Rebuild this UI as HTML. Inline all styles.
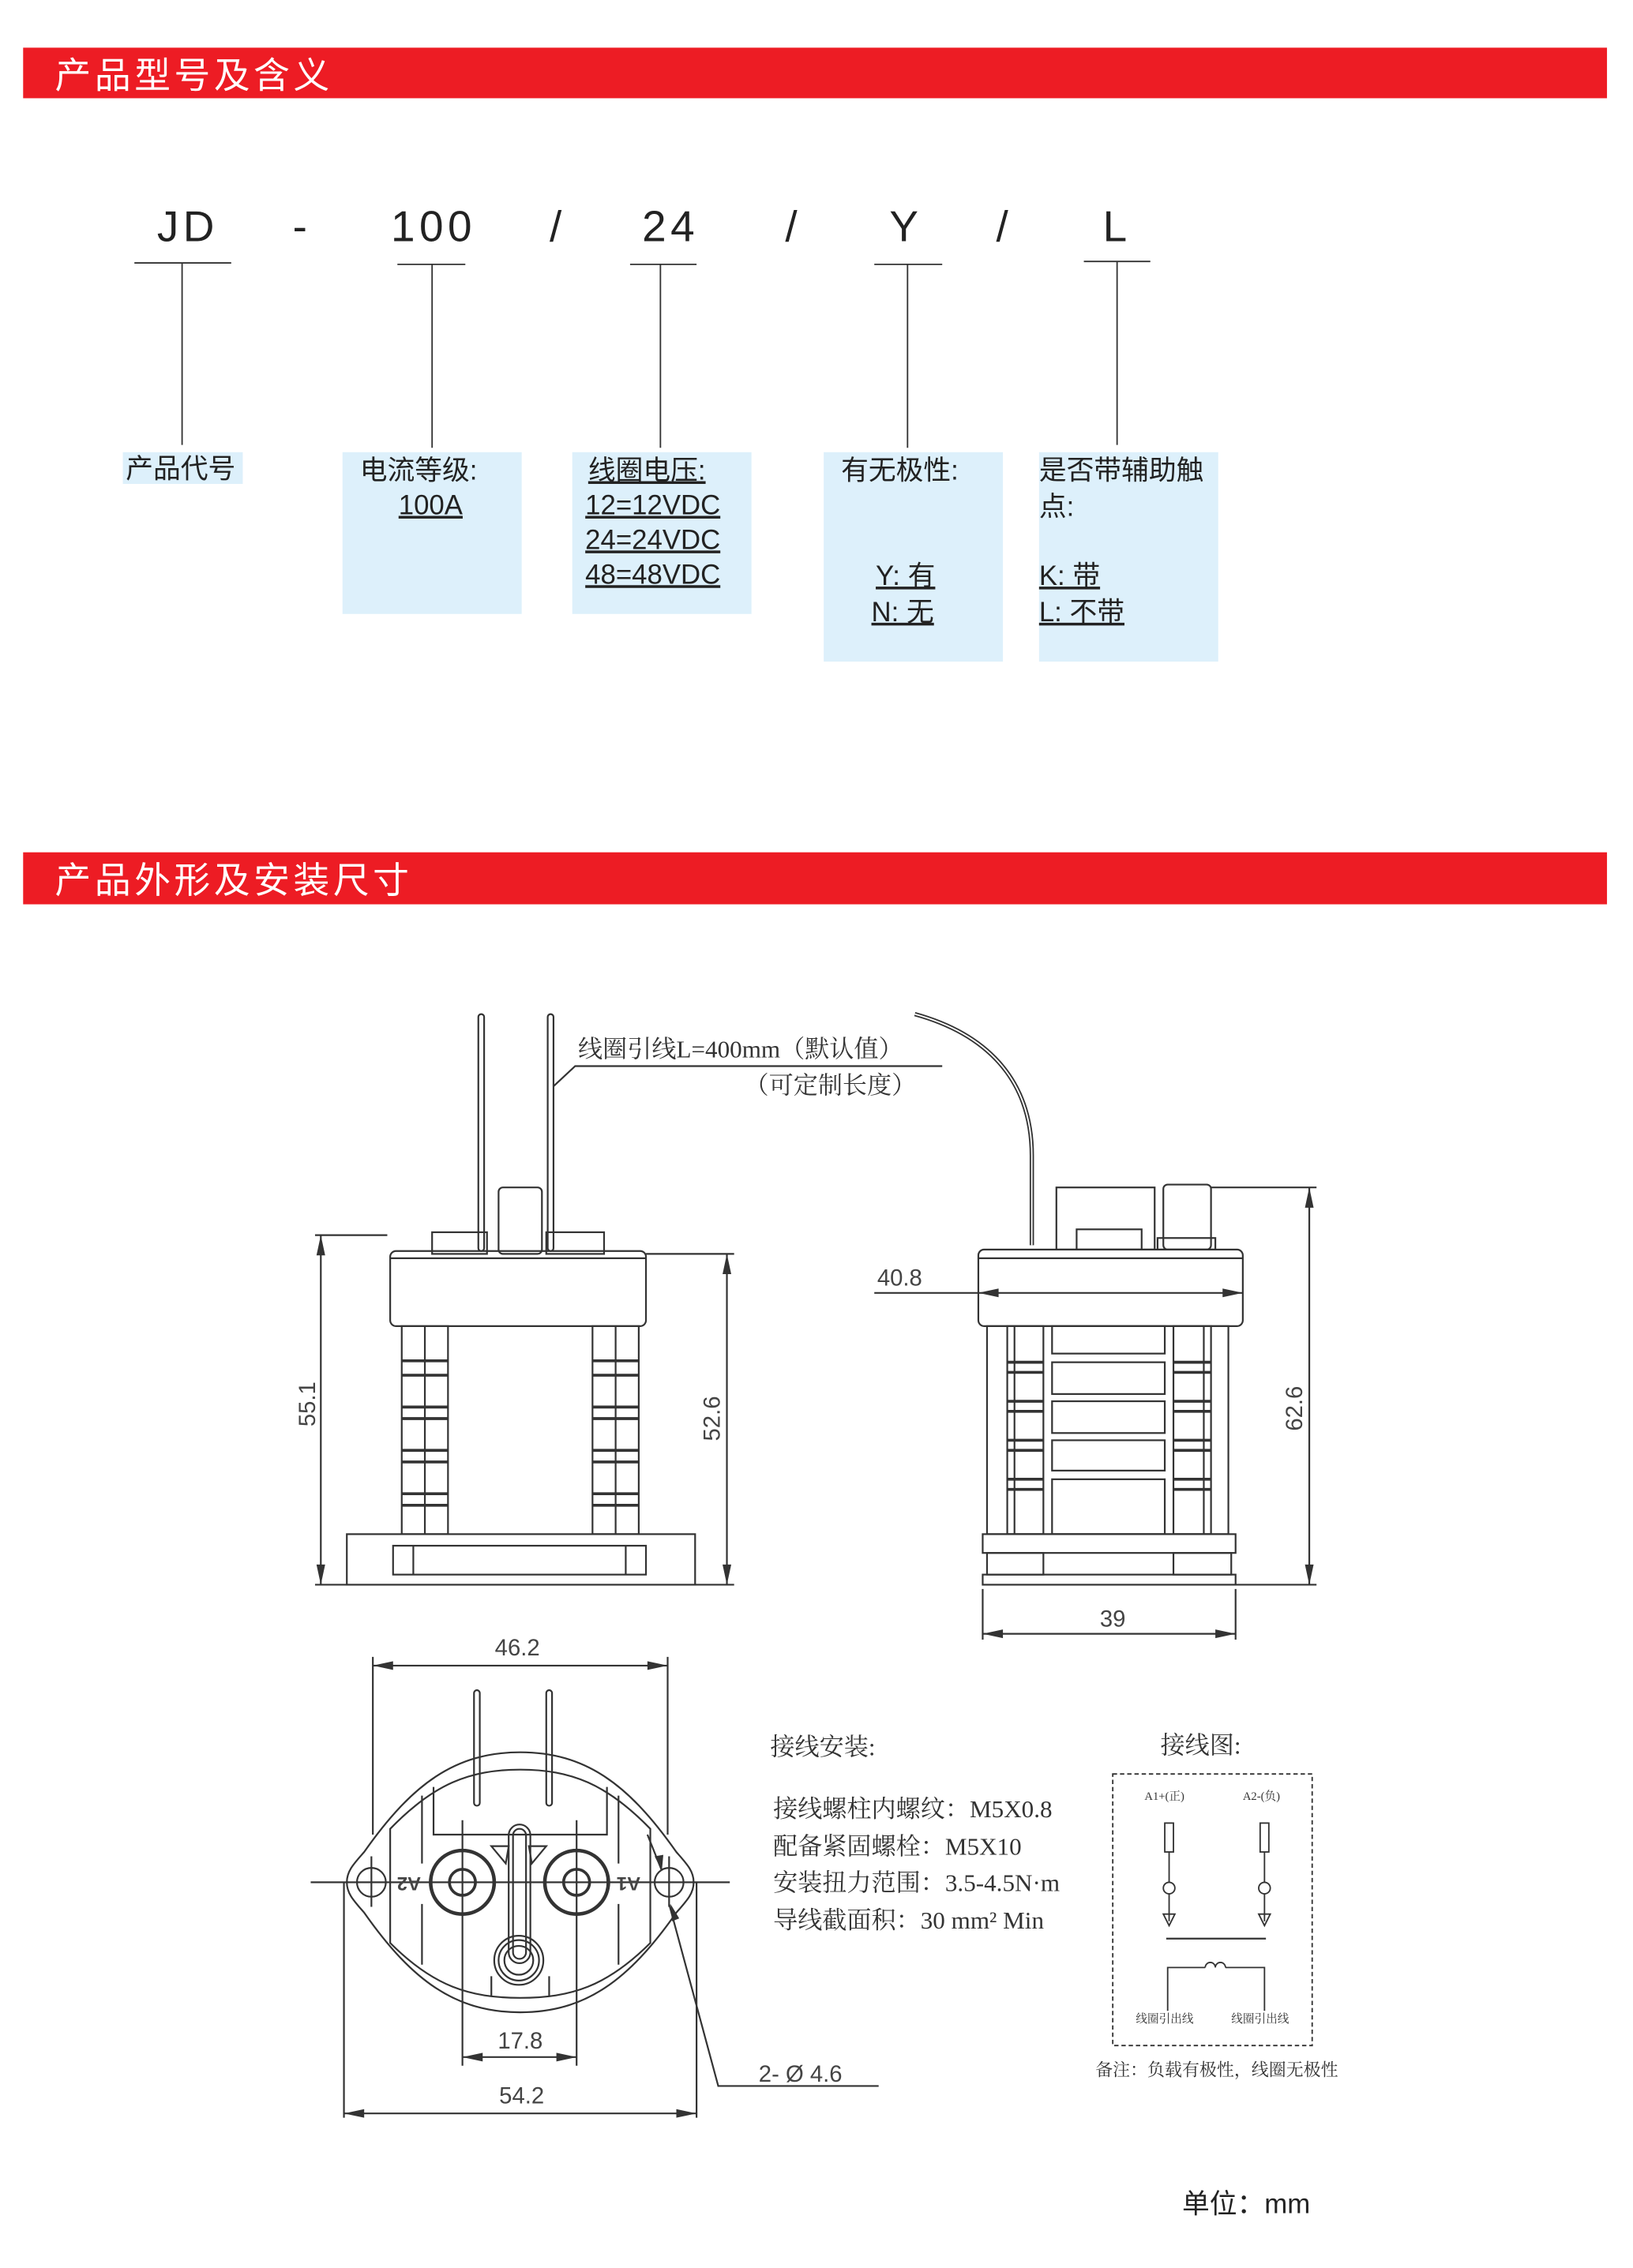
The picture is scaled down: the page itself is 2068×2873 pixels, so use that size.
<!DOCTYPE html>
<html><head><meta charset="utf-8"><style>
html,body{margin:0;padding:0;background:#fff}
svg{display:block}
.s{font-family:"Liberation Sans","Noto Sans CJK SC",sans-serif}
.r{font-family:"Liberation Serif","Noto Serif CJK SC",serif}
</style></head><body>
<svg width="2068" height="2873" viewBox="0 0 1130 1570" preserveAspectRatio="none" xmlns="http://www.w3.org/2000/svg">
<rect width="1130" height="1570" fill="#fff"/>
<!-- headers -->
<rect x="16" y="33" width="1096" height="35" fill="#ed1c24"/>
<text x="38" y="61" class="s" font-size="25" letter-spacing="2.5" fill="#fff">产品型号及含义</text>
<rect x="16" y="590" width="1096" height="36" fill="#ed1c24"/>
<text x="38" y="618" class="s" font-size="25" letter-spacing="2.5" fill="#fff">产品外形及安装尺寸</text>

<!-- model code -->
<g class="s" font-size="30" fill="#222" text-anchor="middle" letter-spacing="3">
<text x="130" y="167">JD</text><text x="209" y="167">-</text><text x="300" y="167">100</text>
<text x="386" y="167">/</text><text x="464" y="167">24</text><text x="549" y="167">/</text>
<text x="627" y="167">Y</text><text x="695" y="167">/</text><text x="773" y="167">L</text>
</g>
<g stroke="#333" stroke-width="1">
<line x1="93" y1="182" x2="160" y2="182"/><line x1="126" y1="182" x2="126" y2="308"/>
<line x1="275" y1="183" x2="322" y2="183"/><line x1="299" y1="183" x2="299" y2="310"/>
<line x1="436" y1="183" x2="482" y2="183"/><line x1="457" y1="183" x2="457" y2="310"/>
<line x1="605" y1="183" x2="652" y2="183"/><line x1="628" y1="183" x2="628" y2="310"/>
<line x1="750" y1="181" x2="796" y2="181"/><line x1="773" y1="181" x2="773" y2="308"/>
</g>
<g fill="#ddf0fb">
<rect x="85" y="313" width="83" height="22"/>
<rect x="237" y="313" width="124" height="112"/>
<rect x="396" y="313" width="124" height="112"/>
<rect x="570" y="313" width="124" height="145"/>
<rect x="719" y="313" width="124" height="145"/>
</g>
<g class="s" font-size="19" fill="#222">
<text x="87" y="331">产品代号</text>
<text x="249" y="332">电流等级:</text>
<text x="298" y="356" text-anchor="middle" text-decoration="underline">100A</text>
<text x="407" y="332" text-decoration="underline">线圈电压: </text>
<text x="405" y="356" text-decoration="underline">12=12VDC </text>
<text x="405" y="380" text-decoration="underline">24=24VDC </text>
<text x="405" y="404" text-decoration="underline">48=48VDC </text>
<text x="582" y="332">有无极性:</text>
<text x="606" y="405" text-decoration="underline">Y: 有</text>
<text x="603" y="430" text-decoration="underline">N: 无</text>
<text x="719" y="332">是否带辅助触</text>
<text x="719" y="357">点:</text>
<text x="719" y="405" text-decoration="underline">K: 带</text>
<text x="719" y="430" text-decoration="underline">L: 不带</text>
</g>

<!-- drawings -->
<g fill="none" stroke="#333" stroke-width="1.2">
<rect x="331" y="702" width="4" height="164" rx="2"/>
<rect x="379" y="702" width="4" height="164" rx="2"/>
<path d="M383 752 L398 738 L652 738"/>
<rect x="345" y="822" width="30" height="46" rx="3"/>
<rect x="299" y="853" width="38" height="15"/>
<rect x="378" y="853" width="40" height="15"/>
<rect x="270" y="866" width="177" height="52" rx="4"/>
<line x1="270" y1="871" x2="447" y2="871"/>
<rect x="278" y="918" width="32" height="144"/><line x1="294" y1="918" x2="294" y2="1062"/>
<rect x="410" y="918" width="32" height="144"/><line x1="426" y1="918" x2="426" y2="1062"/>
<g stroke-width="2">
<line x1="278" y1="942" x2="310" y2="942"/><line x1="278" y1="952" x2="310" y2="952"/>
<line x1="278" y1="974" x2="310" y2="974"/><line x1="278" y1="982" x2="310" y2="982"/>
<line x1="278" y1="1004" x2="310" y2="1004"/><line x1="278" y1="1012" x2="310" y2="1012"/>
<line x1="278" y1="1034" x2="310" y2="1034"/><line x1="278" y1="1042" x2="310" y2="1042"/>
<line x1="410" y1="942" x2="442" y2="942"/><line x1="410" y1="952" x2="442" y2="952"/>
<line x1="410" y1="974" x2="442" y2="974"/><line x1="410" y1="982" x2="442" y2="982"/>
<line x1="410" y1="1004" x2="442" y2="1004"/><line x1="410" y1="1012" x2="442" y2="1012"/>
<line x1="410" y1="1034" x2="442" y2="1034"/><line x1="410" y1="1042" x2="442" y2="1042"/>
</g>
<rect x="240" y="1062" width="241" height="35"/>
<rect x="272" y="1070" width="175" height="20"/>
<line x1="286" y1="1070" x2="286" y2="1090"/><line x1="433" y1="1070" x2="433" y2="1090"/>
<line x1="218" y1="855" x2="268" y2="855"/><line x1="222" y1="855" x2="222" y2="1097"/>
<line x1="218" y1="1097" x2="240" y2="1097"/>
<line x1="447" y1="868" x2="508" y2="868"/><line x1="503" y1="868" x2="503" y2="1097"/>
<line x1="481" y1="1097" x2="508" y2="1097"/>

<path d="M633 702 C680 715 714 745 714 800 L714 862" stroke-width="3"/>
<path d="M633 702 C680 715 714 745 714 800 L714 862" stroke="#fff" stroke-width="1"/>
<rect x="731" y="822" width="68" height="43"/>
<rect x="805" y="820" width="33" height="45" rx="3"/>
<rect x="801" y="857" width="40" height="8"/>
<rect x="745" y="851" width="45" height="14"/>
<rect x="677" y="865" width="183" height="53" rx="4"/>
<line x1="677" y1="871" x2="860" y2="871"/>
<rect x="683" y="918" width="167" height="144"/>
<rect x="697" y="918" width="25" height="144"/><line x1="702" y1="918" x2="702" y2="1062"/>
<rect x="812" y="918" width="26" height="144"/><line x1="833" y1="918" x2="833" y2="1062"/>
<g stroke-width="2">
<line x1="697" y1="943" x2="722" y2="943"/><line x1="697" y1="950" x2="722" y2="950"/>
<line x1="697" y1="970" x2="722" y2="970"/><line x1="697" y1="977" x2="722" y2="977"/>
<line x1="697" y1="997" x2="722" y2="997"/><line x1="697" y1="1004" x2="722" y2="1004"/>
<line x1="697" y1="1024" x2="722" y2="1024"/><line x1="697" y1="1031" x2="722" y2="1031"/>
<line x1="812" y1="943" x2="838" y2="943"/><line x1="812" y1="950" x2="838" y2="950"/>
<line x1="812" y1="970" x2="838" y2="970"/><line x1="812" y1="977" x2="838" y2="977"/>
<line x1="812" y1="997" x2="838" y2="997"/><line x1="812" y1="1004" x2="838" y2="1004"/>
<line x1="812" y1="1024" x2="838" y2="1024"/><line x1="812" y1="1031" x2="838" y2="1031"/>
</g>
<rect x="728" y="918" width="78" height="19"/>
<rect x="728" y="943" width="78" height="22"/>
<rect x="728" y="970" width="78" height="22"/>
<rect x="728" y="997" width="78" height="21"/>
<rect x="728" y="1024" width="78" height="38"/>
<rect x="680" y="1062" width="175" height="13"/>
<rect x="683" y="1075" width="39" height="15"/>
<rect x="812" y="1075" width="40" height="15"/>
<rect x="680" y="1090" width="175" height="7"/>
<line x1="605" y1="895" x2="860" y2="895"/>
<line x1="838" y1="822" x2="911" y2="822"/><line x1="906" y1="822" x2="906" y2="1097"/>
<line x1="855" y1="1097" x2="911" y2="1097"/>
<line x1="680" y1="1100" x2="680" y2="1135"/><line x1="855" y1="1100" x2="855" y2="1135"/>
<line x1="680" y1="1131" x2="855" y2="1131"/>

<line x1="258" y1="1153" x2="462" y2="1153"/>
<line x1="258" y1="1147" x2="258" y2="1270"/><line x1="462" y1="1147" x2="462" y2="1270"/>
<line x1="215" y1="1303" x2="505" y2="1303"/>
<path d="M240 1303 C240 1295 245 1290 252 1282 C285 1235 315 1213 360 1213 C405 1213 435 1235 468 1282 C475 1290 480 1295 480 1303 C480 1311 475 1316 468 1324 C435 1371 405 1393 360 1393 C315 1393 285 1371 252 1324 C245 1316 240 1311 240 1303 Z"/>
<path d="M270 1266 C300 1235 325 1225 360 1225 C395 1225 420 1235 450 1266 L450 1345 C420 1375 395 1383 360 1383 C325 1383 300 1375 270 1345 Z"/>
<path d="M292 1243 L292 1290 M428 1243 L428 1290 M300 1237 L300 1270 L420 1270 L420 1237"/>
<path d="M292 1318 L292 1360 M428 1318 L428 1360 M340 1382 L340 1368 M380 1382 L380 1368"/>
<rect x="328" y="1170" width="4" height="80" rx="2"/>
<rect x="378" y="1170" width="4" height="80" rx="2"/>
<rect x="355" y="1266" width="9" height="90" rx="4.5"/>
<rect x="352" y="1263" width="15" height="96" rx="7.5"/>
<circle cx="359" cy="1357" r="17"/><circle cx="359" cy="1357" r="14"/><circle cx="359" cy="1357" r="10"/>
<path d="M340 1278 L352 1278 L350 1290 Z M366 1278 L378 1278 L368 1290 Z"/>
<circle cx="320" cy="1303" r="22" stroke-width="2.5"/><circle cx="320" cy="1303" r="9" stroke-width="2"/>
<circle cx="399" cy="1303" r="22" stroke-width="2.5"/><circle cx="399" cy="1303" r="9" stroke-width="2"/>
<circle cx="257" cy="1303" r="10"/><circle cx="463" cy="1303" r="10"/>
<line x1="257" y1="1285" x2="257" y2="1320"/><line x1="463" y1="1285" x2="463" y2="1320"/>
<line x1="320" y1="1260" x2="320" y2="1430"/><line x1="399" y1="1260" x2="399" y2="1430"/>
<line x1="320" y1="1424" x2="399" y2="1424"/>
<line x1="238" y1="1303" x2="238" y2="1466"/><line x1="482" y1="1303" x2="482" y2="1466"/>
<line x1="238" y1="1463" x2="482" y2="1463"/>
<path d="M463 1318 L497 1444 L608 1444"/>
<line x1="448" y1="1270" x2="458" y2="1295"/>

<rect x="770" y="1228" width="138" height="188" stroke-dasharray="3,2" stroke-width="1"/>
<rect x="806" y="1262" width="6" height="20" stroke-width="1"/>
<rect x="872" y="1262" width="6" height="20" stroke-width="1"/>
<line x1="809" y1="1282" x2="809" y2="1330" stroke-width="1"/>
<line x1="875" y1="1282" x2="875" y2="1330" stroke-width="1"/>
<circle cx="809" cy="1307" r="4" fill="#fff" stroke-width="1"/>
<circle cx="875" cy="1307" r="4" fill="#fff" stroke-width="1"/>
<path d="M805 1325 L813 1325 L809 1333 Z M871 1325 L879 1325 L875 1333 Z" stroke-width="1"/>
<line x1="807" y1="1342" x2="876" y2="1342" stroke-width="1.2"/>
<path d="M808 1392 L808 1362 L834 1362 M848 1362 L875 1362 L875 1392" stroke-width="1"/>
<path d="M834 1362 a3.5 3.5 0 0 1 7 0 a3.5 3.5 0 0 1 7 0" stroke-width="1"/>
</g>
<g fill="#333">
<path d="M222 855 l-3 14 h6 Z M222 1097 l-3 -14 h6 Z"/>
<path d="M503 868 l-3 14 h6 Z M503 1097 l-3 -14 h6 Z"/>
<path d="M677 895 l14 -3 v6 Z M860 895 l-14 -3 v6 Z"/>
<path d="M906 822 l-3 14 h6 Z M906 1097 l-3 -14 h6 Z"/>
<path d="M680 1131 l14 -3 v6 Z M855 1131 l-14 -3 v6 Z"/>
<path d="M258 1153 l14 -3 v6 Z M462 1153 l-14 -3 v6 Z"/>
<path d="M320 1424 l14 -3 v6 Z M399 1424 l-14 -3 v6 Z"/>
<path d="M238 1463 l14 -3 v6 Z M482 1463 l-14 -3 v6 Z"/>
<path d="M458 1295 l-5 -10 l6 -1 Z M464 1318 l1 12 l5 -2 Z"/>
</g>
<g class="s" font-size="16" fill="#444">
<text transform="translate(218 972) rotate(-90)" text-anchor="middle">55.1</text>
<text transform="translate(498 982) rotate(-90)" text-anchor="middle">52.6</text>
<text transform="translate(901 975) rotate(-90)" text-anchor="middle">62.6</text>
<text x="607" y="890">40.8</text>
<text x="770" y="1126" text-anchor="middle">39</text>
<text x="358" y="1146" text-anchor="middle">46.2</text>
<text x="360" y="1418" text-anchor="middle">17.8</text>
<text x="361" y="1456" text-anchor="middle">54.2</text>
<text x="525" y="1441">2-  Ø  4.6</text>
</g>
<g class="s" font-size="13" font-weight="bold" fill="#444">
<text transform="translate(283 1303) rotate(180)" text-anchor="middle" dominant-baseline="middle">A2</text>
<text transform="translate(435 1303) rotate(180)" text-anchor="middle" dominant-baseline="middle">A1</text>
</g>
<g class="r" fill="#333">
<text x="400" y="732" font-size="17">线圈引线L=400mm（默认值）</text>
<text x="515" y="757" font-size="17">（可定制长度）</text>
<text x="533" y="1215" font-size="17">接线安装:</text>
<text x="535" y="1258" font-size="17">接线螺柱内螺纹：M5X0.8</text>
<text x="535" y="1284" font-size="17">配备紧固螺栓：M5X10</text>
<text x="535" y="1309" font-size="17">安装扭力范围：3.5-4.5N·m</text>
<text x="535" y="1335" font-size="17">导线截面积：30 mm² Min</text>
<text x="803" y="1214" font-size="17">接线图:</text>
<text x="792" y="1246" font-size="8">A1+(正)</text>
<text x="860" y="1246" font-size="8">A2-(负)</text>
<text x="786" y="1400" font-size="8">线圈引出线</text>
<text x="852" y="1400" font-size="8">线圈引出线</text>
<text x="758" y="1437" font-size="12">备注：负载有极性，线圈无极性</text>
</g>
<text x="818" y="1532" class="s" font-size="19" fill="#222">单位：mm</text>
</svg>
</body></html>
